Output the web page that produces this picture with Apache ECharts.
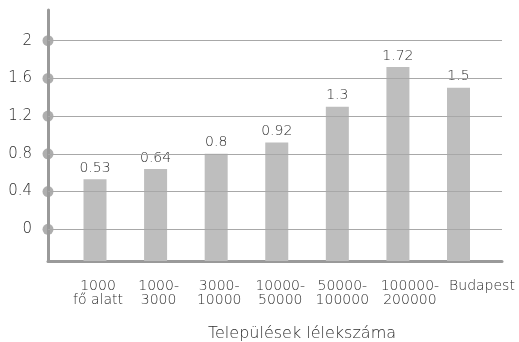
<!DOCTYPE html>
<html>
<head>
<meta charset="utf-8">
<script src="https://cdn.jsdelivr.net/npm/echarts@6/dist/echarts.min.js"></script>
<style>html,body{margin:0;padding:0;background:#fff}#c{width:519px;height:342px}</style>
</head>
<body>
<div id="c"></div>
<script>
const categories = ['1000\nfő alatt', '1000-\n3000', '3000-\n10000', '10000-\n50000', '50000-\n100000', '100000-\n200000', 'Budapest'];
const values = [0.53, 0.64, 0.8, 0.92, 1.3, 1.72, 1.5];
const yTicks = [0, 0.4, 0.8, 1.2, 1.6, 2];
const axisTitle = 'Települések lélekszáma';

// style: horizontal nudge (px) of each category label
const labelNudge = [3, 3, 3, 3.5, 5, 12, 23.5];

const Y_MIN = -0.336, Y_MAX = 2.325;
const X_MIN = -0.776, X_MAX = 6.718;
const FONT = 'DejaVu Sans';
const WEIGHT = 200;
const TXT = '#2c2c2c';

// one x axis per category label so that no label is auto-hidden
const xAxes = categories.map((c, i) => ({
  type: 'value', min: X_MIN, max: X_MAX, position: 'bottom',
  axisLine: {show: i === 0, onZero: false, lineStyle: {color: '#9a9a9a', width: 3}},
  axisTick: {show: false},
  splitLine: {show: false},
  axisLabel: {
    customValues: [i],
    formatter: v => categories[Math.round(v)].split('\n').map(s => '{p|' + s + '}').join('\n'),
    rich: {p: {padding: [0, 0, 0, labelNudge[i] * 2], fontFamily: FONT, fontWeight: WEIGHT, fontSize: 14, lineHeight: 14, color: TXT}},
    fontFamily: FONT, fontWeight: WEIGHT, fontSize: 14, lineHeight: 14, color: TXT, margin: 18
  }
}));

const chart = echarts.init(document.getElementById('c'), null, {renderer: 'canvas'});
chart.setOption({
  animation: false,
  backgroundColor: '#fff',
  title: {
    text: axisTitle, left: 297, top: 321, textAlign: 'center',
    textStyle: {fontFamily: FONT, fontSize: 16, fontWeight: WEIGHT, color: TXT}
  },
  grid: {left: 48, right: 17, top: 10, bottom: 81},
  xAxis: xAxes,
  yAxis: {
    type: 'value', min: Y_MIN, max: Y_MAX,
    axisLine: {show: true, onZero: false, lineStyle: {color: '#9a9a9a', width: 3}},
    axisTick: {show: false},
    splitLine: {show: false},
    axisLabel: {
      customValues: yTicks,
      formatter: v => String(v),
      fontFamily: FONT, fontWeight: WEIGHT, fontSize: 15, color: TXT, margin: 16
    }
  },
  series: [
    {
      type: 'custom',
      xAxisIndex: 0,
      data: values.map((v, i) => [i, v]),
      renderItem: function (params, api) {
        const x = api.value(0), v = api.value(1);
        const top = api.coord([x, v]);
        const bot = api.coord([x, Y_MIN]);
        const w = 23;
        return {
          type: 'rect',
          shape: {x: top[0] - w / 2, y: top[1], width: w, height: bot[1] - top[1]},
          style: {fill: '#bebebe'},
          textContent: {
            style: {text: String(v), fontFamily: FONT, fontWeight: WEIGHT, fontSize: 14, fill: TXT}
          },
          textConfig: {position: 'top', distance: 4}
        };
      },
      z: 3
    },
    {
      type: 'scatter',
      xAxisIndex: 0,
      data: yTicks.map(t => [X_MIN, t]),
      symbolSize: 11,
      clip: false,
      itemStyle: {color: '#9a9a9a'},
      z: 4,
      markLine: {
        silent: true,
        symbol: ['none', 'none'],
        label: {show: false},
        lineStyle: {color: '#a8a8a8', width: 1, type: 'solid'},
        data: yTicks.map(t => ({yAxis: t}))
      }
    }
  ]
});
</script>
</body>
</html>
